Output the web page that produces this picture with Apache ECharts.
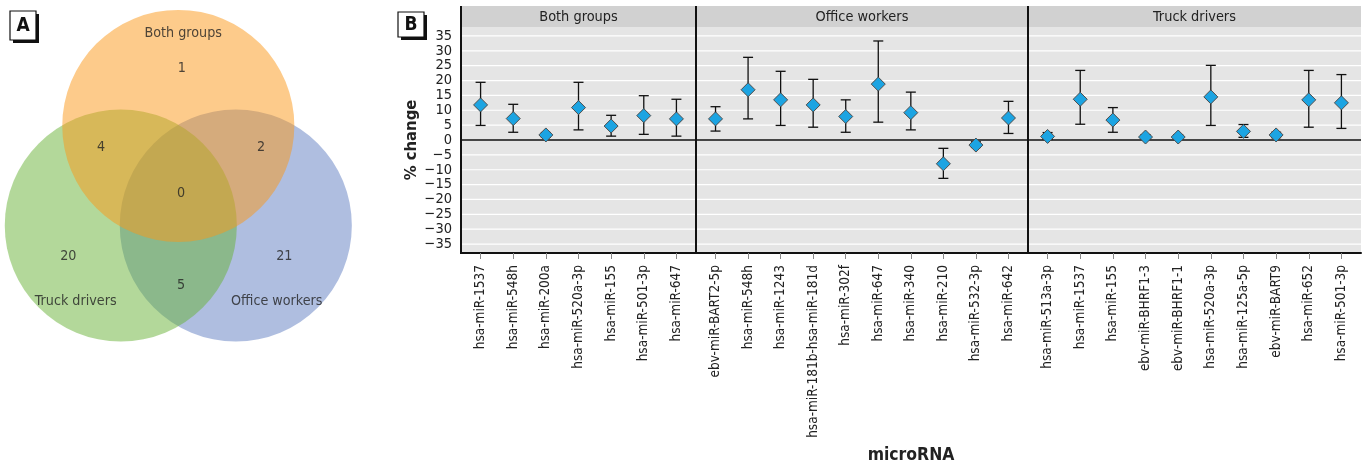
<!DOCTYPE html>
<html><head><meta charset="utf-8">
<script src="https://cdn.jsdelivr.net/npm/echarts@6/dist/echarts.min.js"></script>
<style>html,body{margin:0;padding:0;background:#fff}#c{width:1369px;height:464px}</style>
</head><body><div id="c"></div>
<script>
// ---------------- DATA ----------------
// Venn (panel A), drawn in this order: Office workers, Truck drivers, Both groups
const vennSetNames = ['Office workers', 'Truck drivers', 'Both groups'];
const vennCenterX = [0.5, -0.5, 0];
const vennCenterY = [0, 0, 0.866];
const vennRadius = [1.009, 1.009, 1.009];
const vennLabelText = ['Both groups', '1', '4', '2', '0', '20', '21', '5', 'Truck drivers', 'Office workers'];
const vennLabelX = [0.043, 0.03, -0.672, 0.719, 0.023, -0.957, 0.922, 0.023, -0.892, 0.856];
const vennLabelY = [1.671, 1.367, 0.677, 0.677, 0.28, -0.265, -0.265, -0.523, -0.663, -0.663];

// Panel B
const panelNames = ['Both groups', 'Office workers', 'Truck drivers'];
const catsBoth = ['hsa-miR-1537', 'hsa-miR-548h', 'hsa-miR-200a', 'hsa-miR-520a-3p', 'hsa-miR-155', 'hsa-miR-501-3p', 'hsa-miR-647'];
const meanBoth = [11.8, 7.2, 1.7, 10.9, 4.7, 8.2, 7.1];
const lowBoth  = [4.9, 2.6, 0.9, 3.4, 1.3, 1.9, 1.3];
const highBoth = [19.4, 12.0, 2.5, 19.4, 8.3, 14.9, 13.7];

const catsOffice = ['ebv-miR-BART2-5p', 'hsa-miR-548h', 'hsa-miR-1243', 'hsa-miR-181b-hsa-miR-181d', 'hsa-miR-302f', 'hsa-miR-647', 'hsa-miR-340', 'hsa-miR-210', 'hsa-miR-532-3p', 'hsa-miR-642'];
const meanOffice = [7.1, 16.9, 13.5, 11.8, 7.9, 18.8, 9.2, -8.0, -1.7, 7.4];
const lowOffice  = [3.0, 7.1, 4.9, 4.3, 2.6, 6.0, 3.4, -12.9, -2.5, 2.2];
const highOffice = [11.2, 27.8, 23.1, 20.4, 13.5, 33.3, 16.1, -2.8, -0.6, 13.0];

const catsTruck = ['hsa-miR-513a-3p', 'hsa-miR-1537', 'hsa-miR-155', 'ebv-miR-BHRF1-3', 'ebv-miR-BHRF1-1', 'hsa-miR-520a-3p', 'hsa-miR-125a-5p', 'ebv-miR-BART9', 'hsa-miR-652', 'hsa-miR-501-3p'];
const meanTruck = [1.2, 13.7, 6.7, 1.0, 1.0, 14.5, 2.9, 1.7, 13.5, 12.5];
const lowTruck  = [0.2, 5.3, 2.6, 0.2, 0.2, 4.9, 0.9, 0.8, 4.3, 3.9];
const highTruck = [2.5, 23.4, 10.9, 1.8, 1.8, 25.1, 5.2, 2.6, 23.4, 22.0];

const yTicks = [-35, -30, -25, -20, -15, -10, -5, 0, 5, 10, 15, 20, 25, 30, 35];
const yMin = -38, yMax = 38;

// ---------------- STYLE / LAYOUT ----------------
const FONT = "'Liberation Sans Narrow','Arial Narrow','DejaVu Sans Condensed',sans-serif";
const vennColors = ['#5f7dc1', '#67b135', '#fb9717'];
const PB_LEFT = [461, 696, 1028];
const PB_WIDTH = [235, 332, 333];
const PB_TOP = 27, PB_HEIGHT = 226, STRIP_TOP = 6;

const panels = [
  {cats: catsBoth, mean: meanBoth, low: lowBoth, high: highBoth},
  {cats: catsOffice, mean: meanOffice, low: lowOffice, high: highOffice},
  {cats: catsTruck, mean: meanTruck, low: lowTruck, high: highTruck}
];

const grid = [{left: 5.8, top: 7, width: 345, height: 345, show: false}];
const xAxis = [{gridIndex: 0, type: 'value', min: -1.5, max: 1.5, show: false}];
const yAxis = [{gridIndex: 0, type: 'value', min: -1.1, max: 1.9, show: false}];
const series = [];

series.push({
  type: 'custom', xAxisIndex: 0, yAxisIndex: 0, silent: true, z: 1,
  data: vennCenterX.map((x, i) => [x, vennCenterY[i], vennRadius[i]]),
  renderItem: function (params, api) {
    const c = api.coord([api.value(0), api.value(1)]);
    const r = api.size([api.value(2), 0])[0];
    return {type: 'circle', shape: {cx: c[0], cy: c[1], r: r},
      style: {fill: vennColors[params.dataIndex], opacity: 0.5}};
  }
});
series.push({
  type: 'scatter', xAxisIndex: 0, yAxisIndex: 0, silent: true, z: 3,
  symbolSize: 0,
  data: vennLabelX.map((x, i) => [x, vennLabelY[i]]),
  label: {show: true, position: 'inside', color: '#222', fontSize: 14.2, fontFamily: FONT,
    formatter: p => vennLabelText[p.dataIndex]}
});

panels.forEach((p, k) => {
  const gi = k + 1;
  const n = p.cats.length;
  const idx = p.cats.map((c, i) => i);
  grid.push({left: PB_LEFT[k], top: PB_TOP, width: PB_WIDTH[k], height: PB_HEIGHT,
    show: true, backgroundColor: '#e5e5e5', borderWidth: 0});
  xAxis.push({
    gridIndex: gi, type: 'value', min: -0.6, max: n - 0.4,
    splitLine: {show: false},
    axisLine: {show: true, onZero: false, lineStyle: {color: '#111', width: 2}},
    axisTick: {show: true, customValues: idx, length: 6, lineStyle: {color: '#888', width: 1}},
    axisLabel: {show: true, customValues: idx, rotate: 90, margin: 12, color: '#222',
      fontSize: 13.5, fontFamily: FONT, formatter: v => p.cats[Math.round(v)]}
  });
  yAxis.push({
    gridIndex: gi, type: 'value', min: yMin, max: yMax,
    splitLine: {show: false}, axisTick: {show: false},
    axisLine: {show: false},
    axisLabel: k === 0 ? {show: true, customValues: yTicks, margin: 9, color: '#222',
      fontSize: 14.5, fontFamily: FONT,
      formatter: v => (v < 0 ? '\u2212' + Math.abs(v) : String(v))} : {show: false},
    name: k === 0 ? '% change' : '',
    nameLocation: 'middle', nameGap: 41, nameRotate: 90,
    nameTextStyle: {fontSize: 16.5, fontWeight: 'bold', fontFamily: FONT, color: '#222'}
  });
  // gridlines at tick values
  series.push({
    type: 'custom', xAxisIndex: gi, yAxisIndex: gi, silent: true, z: 1,
    data: yTicks.map(v => [0, v]),
    renderItem: function (params, api) {
      const y = api.coord([0, api.value(1)])[1];
      const cs = params.coordSys;
      const zero = api.value(1) === 0;
      return {type: 'line', shape: {x1: cs.x, y1: y, x2: cs.x + cs.width, y2: y},
        style: {stroke: zero ? '#111' : '#ffffff', lineWidth: zero ? 1.3 : 1.2}};
    }
  });
  // error bars
  series.push({
    type: 'custom', xAxisIndex: gi, yAxisIndex: gi, silent: true, z: 2,
    data: idx.map(i => [i, p.low[i], p.high[i]]),
    renderItem: function (params, api) {
      const lo = api.coord([api.value(0), api.value(1)]);
      const hi = api.coord([api.value(0), api.value(2)]);
      const w = 5;
      const st = {stroke: '#111', lineWidth: 1.3};
      return {type: 'group', children: [
        {type: 'line', shape: {x1: lo[0], y1: lo[1], x2: hi[0], y2: hi[1]}, style: st},
        {type: 'line', shape: {x1: lo[0] - w, y1: lo[1], x2: lo[0] + w, y2: lo[1]}, style: st},
        {type: 'line', shape: {x1: hi[0] - w, y1: hi[1], x2: hi[0] + w, y2: hi[1]}, style: st}
      ]};
    }
  });
  // points
  series.push({
    type: 'scatter', xAxisIndex: gi, yAxisIndex: gi, silent: true, z: 3,
    symbol: 'diamond', symbolSize: 14,
    itemStyle: {color: '#1ca4e2', borderColor: '#4d4d4d', borderWidth: 1, opacity: 1},
    data: idx.map(i => [i, p.mean[i]])
  });
});

// decorations
const graphic = [];
panels.forEach((p, k) => {
  graphic.push({type: 'rect', shape: {x: PB_LEFT[k], y: STRIP_TOP, width: PB_WIDTH[k], height: PB_TOP - STRIP_TOP},
    style: {fill: '#d1d1d1'}, z: 10});
  graphic.push({type: 'text', x: PB_LEFT[k] + PB_WIDTH[k] / 2, y: (STRIP_TOP + PB_TOP) / 2 + 0.5,
    style: {text: panelNames[k], fill: '#222', font: '14.4px ' + FONT,
      align: 'center', verticalAlign: 'middle', textAlign: 'center', textVerticalAlign: 'middle'}, z: 11});
});
[PB_LEFT[0], PB_LEFT[1], PB_LEFT[2]].forEach(x => {
  graphic.push({type: 'line', shape: {x1: x, y1: STRIP_TOP, x2: x, y2: PB_TOP + PB_HEIGHT + 1},
    style: {stroke: '#111', lineWidth: 2}, z: 12});
});
function panelLabel(txt, x, y, w, h) {
  graphic.push({type: 'rect', shape: {x: x + 3, y: y + 3, width: w, height: h}, style: {fill: '#111'}, z: 20});
  graphic.push({type: 'rect', shape: {x: x, y: y, width: w, height: h},
    style: {fill: '#fff', stroke: '#111', lineWidth: 1.2}, z: 21});
  graphic.push({type: 'text', x: x + w / 2, y: y + h / 2 + 1,
    style: {text: txt, fill: '#111', font: 'bold 19px ' + FONT,
      align: 'center', verticalAlign: 'middle', textAlign: 'center', textVerticalAlign: 'middle'}, z: 22});
}
panelLabel('A', 10, 11, 26, 29);
panelLabel('B', 398, 12, 26, 25);
graphic.push({type: 'text', x: PB_LEFT[0] + (PB_LEFT[2] + PB_WIDTH[2] - PB_LEFT[0]) / 2, y: 455,
  style: {text: 'microRNA', fill: '#222', font: 'bold 17.4px ' + FONT,
    align: 'center', verticalAlign: 'middle', textAlign: 'center', textVerticalAlign: 'middle'}, z: 20});

const chart = echarts.init(document.getElementById('c'), null, {renderer: 'canvas'});
chart.setOption({
  animation: false,
  backgroundColor: '#ffffff',
  grid, xAxis, yAxis, series, graphic
});
</script>
</body></html>
